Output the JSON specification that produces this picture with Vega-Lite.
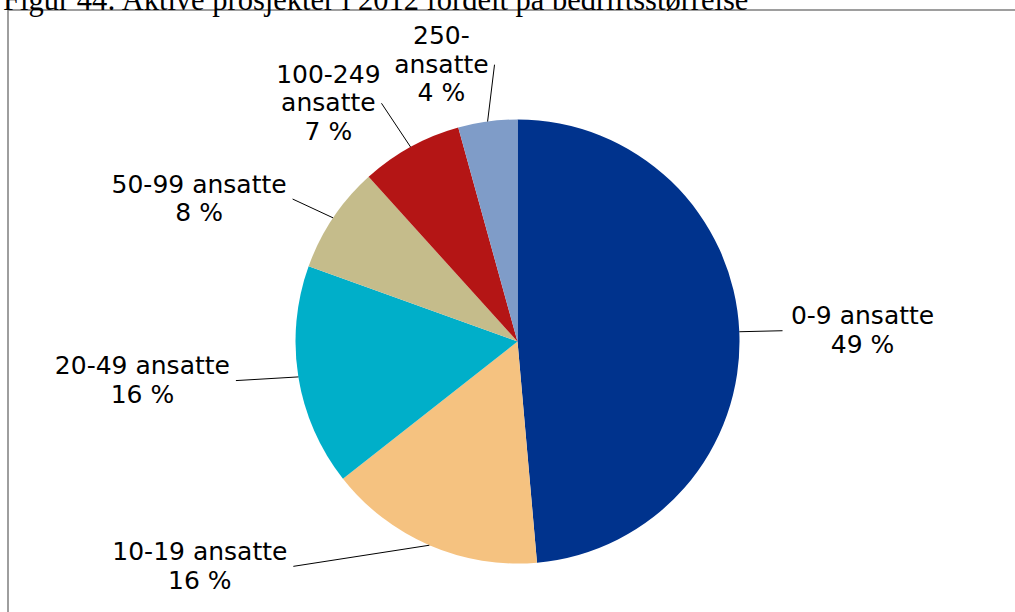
{
  "$schema": "https://vega.github.io/schema/vega-lite/v6.json",
  "width": 1019,
  "height": 663,
  "autosize": {"type": "none"},
  "padding": {"left": 8, "top": 10, "right": 0, "bottom": 0},
  "background": "white",
  "view": {"stroke": "#7f7f7f", "strokeWidth": 1.5, "strokeDash": [1019, 1682, 663, 10]},
  "config": {"view": {"stroke": "#7f7f7f", "strokeWidth": 1.5, "strokeDash": [1019, 1682, 663, 10]}},
  "title": {
    "text": "Figur 44: Aktive prosjekter i 2012 fordelt på bedriftsstørrelse",
    "anchor": "start",
    "frame": "group",
    "font": "Liberation Serif",
    "fontSize": 30.5,
    "fontWeight": "normal",
    "color": "#000000",
    "baseline": "alphabetic",
    "offset": 4,
    "dx": -5,
    "dy": 34
  },
  "data": {
    "values": [
      {"nr": 1, "gruppe": "0-9 ansatte", "andel": 48.6, "label": "0-9 ansatte\n49 %"},
      {"nr": 2, "gruppe": "10-19 ansatte", "andel": 15.8, "label": "10-19 ansatte\n16 %"},
      {"nr": 3, "gruppe": "20-49 ansatte", "andel": 16.1, "label": "20-49 ansatte\n16 %"},
      {"nr": 4, "gruppe": "50-99 ansatte", "andel": 7.8, "label": "50-99 ansatte\n8 %"},
      {"nr": 5, "gruppe": "100-249 ansatte", "andel": 7.4, "label": "100-249\nansatte\n7 %"},
      {"nr": 6, "gruppe": "250- ansatte", "andel": 4.3, "label": "250-\nansatte\n4 %"}
    ]
  },
  "layer": [
    {
      "mark": {"type": "arc", "radius": 222},
      "encoding": {
        "theta": {"field": "andel", "type": "quantitative", "stack": true},
        "order": {"field": "nr", "type": "quantitative", "sort": "ascending"},
        "color": {
          "field": "gruppe",
          "type": "nominal",
          "scale": {
            "domain": ["0-9 ansatte", "10-19 ansatte", "20-49 ansatte", "50-99 ansatte", "100-249 ansatte", "250- ansatte"],
            "range": ["#00338d", "#f5c280", "#00afc9", "#c5bc8b", "#b41515", "#7f9cc8"]
          },
          "legend": null
        }
      }
    },
    {
      "transform": [
        {"stack": "andel", "groupby": [], "sort": [{"field": "nr", "order": "ascending"}], "as": ["andel_start", "andel_end"]}
      ],
      "mark": {"type": "rule", "color": "#000000", "strokeWidth": 1},
      "encoding": {
        "x": {"value": {"expr": "width / 2 + sin(scale('theta', (datum.andel_start + datum.andel_end) / 2)) * 222"}},
        "y": {"value": {"expr": "height / 2 - cos(scale('theta', (datum.andel_start + datum.andel_end) / 2)) * 222"}},
        "x2": {"value": {"expr": "width / 2 + sin(scale('theta', (datum.andel_start + datum.andel_end) / 2)) * 245 + (sin(scale('theta', (datum.andel_start + datum.andel_end) / 2)) < 0 ? -1 : 1) * ((min(1, 4.5 * abs(sin(scale('theta', (datum.andel_start + datum.andel_end) / 2)))) + max(0, -cos(scale('theta', (datum.andel_start + datum.andel_end) / 2)))) * (7.3 * max(indexof(datum.label, '\\n'), 7) + 20) - 6.73 * max(indexof(datum.label, '\\n'), 7) - 6)"}},
        "y2": {"value": {"expr": "height / 2 - cos(scale('theta', (datum.andel_start + datum.andel_end) / 2)) * (245 + 35 * pow(max(0, cos(scale('theta', (datum.andel_start + datum.andel_end) / 2))), 2))"}}
      }
    },
    {
      "mark": {
        "type": "text",
        "radius": 0,
        "font": "DejaVu Sans",
        "fontSize": 25,
        "lineHeight": 28.5,
        "lineBreak": "\n",
        "align": "center",
        "baseline": "middle",
        "color": "#000000",
        "dx": {"expr": "sin(scale('theta', (datum.andel_start + datum.andel_end) / 2)) * 245 + (sin(scale('theta', (datum.andel_start + datum.andel_end) / 2)) < 0 ? -1 : 1) * (min(1, 4.5 * abs(sin(scale('theta', (datum.andel_start + datum.andel_end) / 2)))) + max(0, -cos(scale('theta', (datum.andel_start + datum.andel_end) / 2)))) * (7.3 * max(indexof(datum.label, '\\n'), 7) + 20)"},
        "dy": {"expr": "-cos(scale('theta', (datum.andel_start + datum.andel_end) / 2)) * (245 + 35 * pow(max(0, cos(scale('theta', (datum.andel_start + datum.andel_end) / 2))), 2)) - (length(split(datum.label, '\\n')) - 1) * 14.25"}
      },
      "encoding": {
        "theta": {"field": "andel", "type": "quantitative", "stack": true},
        "order": {"field": "nr", "type": "quantitative", "sort": "ascending"},
        "text": {"field": "label", "type": "nominal"}
      }
    }
  ]
}
